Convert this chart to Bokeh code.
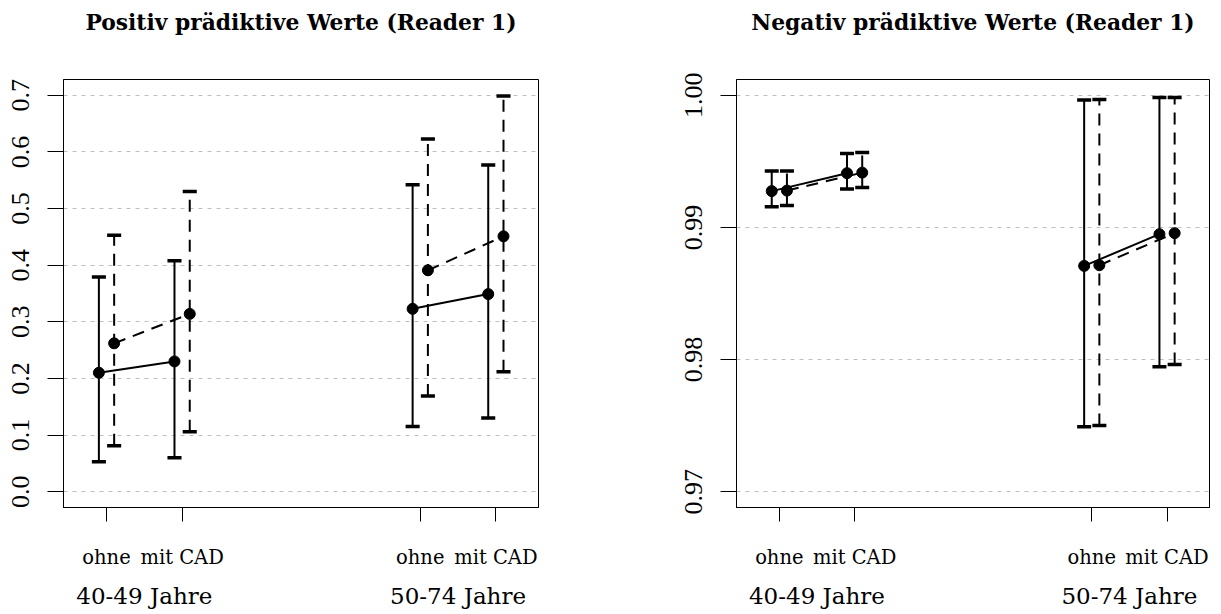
from bokeh.plotting import figure
from bokeh.layouts import row
from bokeh.models import Range1d, FixedTicker, LinearAxis, PrintfTickFormatter
from bokeh.embed import file_html
from bokeh.resources import INLINE

# ---- data ----
x_labels = ["ohne", "mit CAD", "ohne", "mit CAD"]
x_pos = [1.0, 2.0, 5.15, 6.15]
group_labels = ["40-49 Jahre", "50-74 Jahre"]
group_pos = [1.5, 5.65]

ppv_title = "Positiv prädiktive Werte (Reader 1)"
ppv_ticks = [0.0, 0.1, 0.2, 0.3, 0.4, 0.5, 0.6, 0.7]
ppv_solid_est = [0.210, 0.230, 0.323, 0.349]
ppv_solid_lo = [0.053, 0.060, 0.115, 0.130]
ppv_solid_hi = [0.379, 0.408, 0.542, 0.577]
ppv_dash_est = [0.262, 0.314, 0.391, 0.451]
ppv_dash_lo = [0.081, 0.106, 0.169, 0.212]
ppv_dash_hi = [0.453, 0.530, 0.623, 0.699]

npv_title = "Negativ prädiktive Werte (Reader 1)"
npv_ticks = [0.97, 0.98, 0.99, 1.00]
npv_solid_est = [0.99275, 0.99411, 0.98709, 0.98949]
npv_solid_lo = [0.99156, 0.99292, 0.97492, 0.97946]
npv_solid_hi = [0.99428, 0.99559, 0.99964, 0.99983]
npv_dash_est = [0.99279, 0.99415, 0.98714, 0.98957]
npv_dash_lo = [0.99166, 0.99302, 0.97500, 0.97962]
npv_dash_hi = [0.99428, 0.99567, 0.99968, 0.99983]

OFFSET = 0.101
CAP = 0.093
DASH = "12 8"
XR = (0.431, 6.714)


def panel(title, ticks, fmt, yr, series, width, bl, br):
    p = figure(width=width, height=614, output_backend="svg", toolbar_location=None,
               x_range=Range1d(*XR), y_range=Range1d(*yr),
               min_border_left=bl, min_border_right=br, min_border_top=79,
               min_border_bottom=107)
    p.background_fill_color = "white"
    p.border_fill_color = "white"
    p.outline_line_color = "black"
    p.outline_line_width = 1

    p.xgrid.visible = False
    p.ygrid.ticker = FixedTicker(ticks=ticks)
    p.ygrid.grid_line_color = "#BEBEBE"
    p.ygrid.grid_line_dash = "4 5"
    p.ygrid.grid_line_width = 1

    ya = p.yaxis[0]
    ya.ticker = FixedTicker(ticks=ticks)
    ya.formatter = PrintfTickFormatter(format=fmt)
    ya.major_label_orientation = "vertical"
    ya.major_label_text_font = "Liberation Serif"
    ya.major_label_text_font_size = "26px"
    ya.major_label_text_color = "black"
    ya.major_tick_out = 16
    ya.major_tick_in = 0
    ya.minor_tick_line_color = None
    ya.major_label_standoff = 18
    ya.axis_line_color = "black"

    xa = p.xaxis[0]
    xa.ticker = FixedTicker(ticks=x_pos)
    xa.major_label_overrides = {k: v for k, v in zip(x_pos, x_labels)}
    xa.major_label_text_font = "DejaVu Serif"
    xa.major_label_text_font_size = "19.5px"
    xa.major_label_text_color = "black"
    xa.major_tick_out = 14
    xa.major_tick_in = 0
    xa.minor_tick_line_color = None
    xa.major_label_standoff = 24
    xa.axis_line_color = "black"

    ga = LinearAxis(ticker=FixedTicker(ticks=group_pos),
                    major_label_overrides={k: v for k, v in zip(group_pos, group_labels)},
                    major_tick_out=0, major_tick_in=0, minor_tick_line_color=None,
                    major_tick_line_color=None, axis_line_color=None,
                    major_label_standoff=11, major_label_text_font="DejaVu Serif",
                    major_label_text_font_size="23px", major_label_text_color="black")
    p.add_layout(ga, "below")

    # title, centred over the plotting frame
    mid = (XR[0] + XR[1]) / 2
    ta = LinearAxis(ticker=FixedTicker(ticks=[mid]),
                    major_label_overrides={mid: title},
                    major_tick_out=0, major_tick_in=0, minor_tick_line_color=None,
                    major_tick_line_color=None, axis_line_color=None,
                    major_label_standoff=45, major_label_text_font="DejaVu Serif",
                    major_label_text_font_style="bold",
                    major_label_text_font_size="21.8px", major_label_text_color="black")
    p.add_layout(ta, "above")

    for (est, lo, hi, sign, dash) in series:
        xs = [x + sign * OFFSET for x in x_pos]
        p.segment(x0=xs, y0=lo, x1=xs, y1=hi, line_color="black", line_width=2,
                  line_dash=dash)
        p.segment(x0=[x - CAP for x in xs], y0=hi, x1=[x + CAP for x in xs], y1=hi,
                  line_color="black", line_width=3.5)
        p.segment(x0=[x - CAP for x in xs], y0=lo, x1=[x + CAP for x in xs], y1=lo,
                  line_color="black", line_width=3.5)
        for g in range(2):
            idx = [2 * g, 2 * g + 1]
            p.line([xs[i] for i in idx], [est[i] for i in idx], line_color="black",
                   line_width=2, line_dash=dash)
        p.scatter(xs, est, size=11, fill_color="black", line_color="black")
    return p


p1 = panel(ppv_title, ppv_ticks, "%.1f", (-0.028, 0.728),
           [(ppv_solid_est, ppv_solid_lo, ppv_solid_hi, -1, "solid"),
            (ppv_dash_est, ppv_dash_lo, ppv_dash_hi, 1, DASH)],
           610, 63, 72)
p2 = panel(npv_title, npv_ticks, "%.2f", (0.9688, 1.0012),
           [(npv_solid_est, npv_solid_lo, npv_solid_hi, -1, "solid"),
            (npv_dash_est, npv_dash_lo, npv_dash_hi, 1, DASH)],
           611, 126, 12)

layout = row(p1, p2)
open("out.html", "w").write(file_html(layout, INLINE))
